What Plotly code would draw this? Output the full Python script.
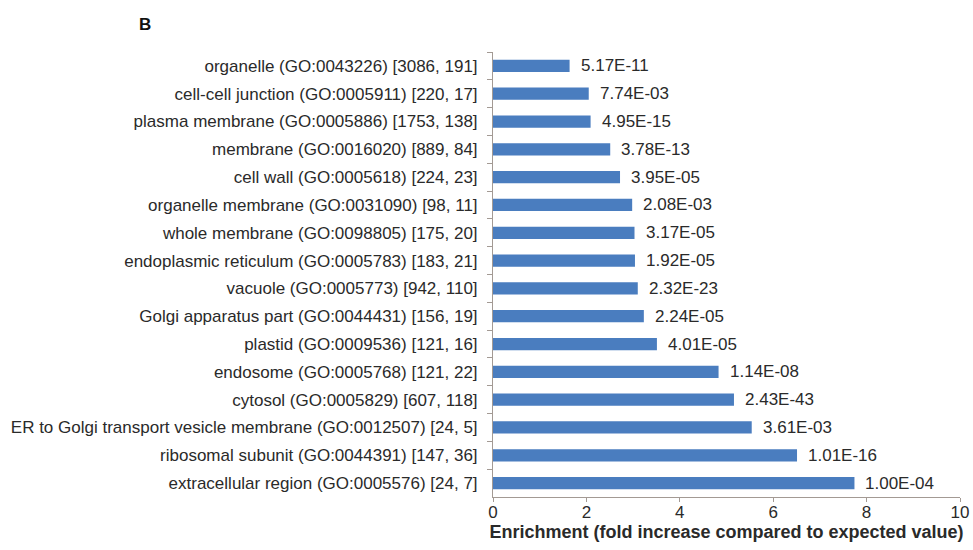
import plotly.graph_objects as go

categories = [
    "organelle (GO:0043226) [3086, 191]",
    "cell-cell junction (GO:0005911) [220, 17]",
    "plasma membrane (GO:0005886) [1753, 138]",
    "membrane (GO:0016020) [889, 84]",
    "cell wall (GO:0005618) [224, 23]",
    "organelle membrane (GO:0031090) [98, 11]",
    "whole membrane (GO:0098805) [175, 20]",
    "endoplasmic reticulum (GO:0005783) [183, 21]",
    "vacuole (GO:0005773) [942, 110]",
    "Golgi apparatus part (GO:0044431) [156, 19]",
    "plastid (GO:0009536) [121, 16]",
    "endosome (GO:0005768) [121, 22]",
    "cytosol (GO:0005829) [607, 118]",
    "ER to Golgi transport vesicle membrane (GO:0012507) [24, 5]",
    "ribosomal subunit (GO:0044391) [147, 36]",
    "extracellular region (GO:0005576) [24, 7]",
]
enrichment = [1.64, 2.05, 2.09, 2.51, 2.72, 2.98, 3.03, 3.04, 3.10, 3.23,
              3.51, 4.83, 5.16, 5.54, 6.51, 7.74]
pvalues = ["5.17E-11", "7.74E-03", "4.95E-15", "3.78E-13", "3.95E-05",
           "2.08E-03", "3.17E-05", "1.92E-05", "2.32E-23", "2.24E-05",
           "4.01E-05", "1.14E-08", "2.43E-43", "3.61E-03", "1.01E-16",
           "1.00E-04"]
x_ticks = [0, 2, 4, 6, 8, 10]

FONT = "Liberation Sans, Arial, sans-serif"
TXT = "#2a2a2a"
AXIS = "#a39a94"

fig = go.Figure()
fig.add_trace(go.Bar(
    x=enrichment, y=categories, orientation="h",
    marker=dict(color="#4A7DBF", line=dict(width=0)),
    width=0.44, hoverinfo="skip",
))

for v, c, p in zip(enrichment, categories, pvalues):
    fig.add_annotation(x=v, y=c, text=p, showarrow=False, xanchor="left",
                       xshift=9, font=dict(family=FONT, size=17, color=TXT))

fig.add_annotation(xref="paper", yref="paper", x=-0.762, y=1.087, text="<b>B</b>",
                   showarrow=False, xanchor="left", yanchor="top",
                   font=dict(family=FONT, size=17, color="#111"))

fig.update_layout(
    width=973, height=550,
    margin=dict(l=493, r=13, t=52, b=53),
    paper_bgcolor="white", plot_bgcolor="white",
    showlegend=False,
    font=dict(family=FONT, size=17, color=TXT),
    xaxis=dict(range=[0, 10], tickvals=x_ticks, showgrid=False, zeroline=False,
               showline=True, linecolor=AXIS, linewidth=1, automargin=False,
               ticks="outside", ticklen=4, tickcolor=AXIS, ticklabelstandoff=-4,
               tickfont=dict(family=FONT, size=17, color=TXT),
               title=dict(text="<b>Enrichment (fold increase compared to expected value)</b>",
                          font=dict(family=FONT, size=18, color=TXT), standoff=0)),
    yaxis=dict(autorange="reversed", type="category", showgrid=False, automargin=False,
               showline=True, linecolor=AXIS, linewidth=1,
               ticks="outside", ticklen=5, tickcolor=AXIS, tickson="boundaries",
               tickfont=dict(family=FONT, size=17, color=TXT), ticklabelstandoff=11),
)

fig.write_html("out.html", config={"displayModeBar": False},
               post_script="document.body.style.margin='0';")
